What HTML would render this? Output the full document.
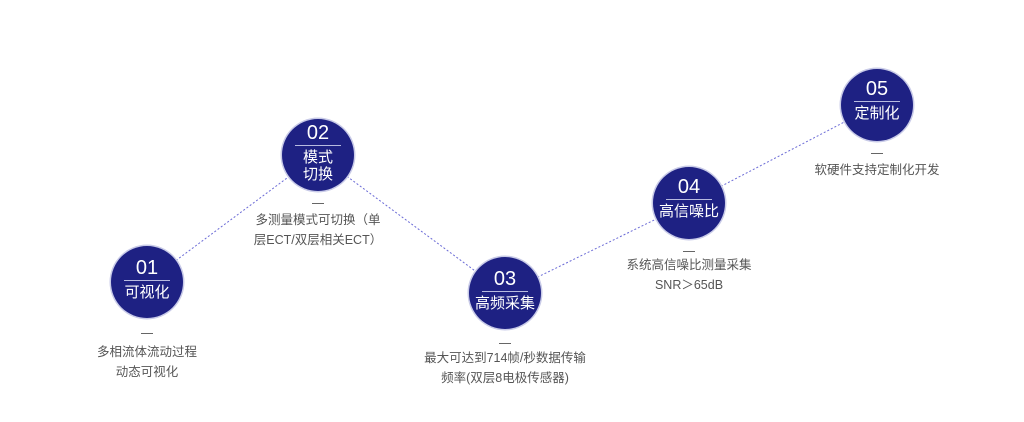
<!DOCTYPE html>
<html><head><meta charset="utf-8"><style>
body{margin:0;width:1024px;height:422px;background:#fff;position:relative;overflow:hidden;font-family:"Liberation Sans","Noto Sans CJK SC",sans-serif}
.c{position:absolute;width:72px;height:72px;border-radius:50%;background:#1e2183;box-shadow:0 0 0 1.5px #c9cbe8;color:#fff;text-align:center}
.n{font-size:20px;line-height:20px;margin-top:10px}
.l{width:46px;height:1px;background:#b8bbe0;margin:2px auto 3px}
.t{font-size:15px;line-height:17px}
.d{position:absolute;width:12px;height:1px;background:#666}
.x{position:absolute;font-size:12.5px;color:#555;text-align:center;line-height:19.5px;white-space:nowrap}
</style></head><body>
<svg width="1024" height="422" style="position:absolute;left:0;top:0">
<g stroke="#6b6bd6" stroke-width="1" stroke-dasharray="2,2" fill="none">
<line x1="147" y1="282" x2="318" y2="155"/>
<line x1="318" y1="155" x2="505" y2="293"/>
<line x1="505" y1="293" x2="689" y2="203"/>
<line x1="689" y1="203" x2="877" y2="105"/>
</g></svg>
<div class="c" style="left:111px;top:246px"><div class="n" style="margin-top:12px">01</div><div class="l"></div><div class="t">可视化</div></div>
<div class="c" style="left:282px;top:119px"><div class="n" style="margin-top:4px">02</div><div class="l"></div><div class="t">模式<br>切换</div></div>
<div class="c" style="left:469px;top:257px"><div class="n" style="margin-top:12px">03</div><div class="l"></div><div class="t">高频采集</div></div>
<div class="c" style="left:653px;top:167px"><div class="n" style="margin-top:10px">04</div><div class="l"></div><div class="t">高信噪比</div></div>
<div class="c" style="left:841px;top:69px"><div class="n" style="margin-top:10px">05</div><div class="l"></div><div class="t">定制化</div></div>
<div class="d" style="left:141px;top:333px"></div>
<div class="x" style="left:47px;width:200px;top:343px">多相流体流动过程<br>动态可视化</div>
<div class="d" style="left:312px;top:203px"></div>
<div class="x" style="left:218px;width:200px;top:211px">多测量模式可切换（单<br>层ECT/双层相关ECT）</div>
<div class="d" style="left:499px;top:343px"></div>
<div class="x" style="left:405px;width:200px;top:349px">最大可达到714帧/秒数据传输<br>频率(双层8电极传感器)</div>
<div class="d" style="left:683px;top:251px"></div>
<div class="x" style="left:589px;width:200px;top:256px">系统高信噪比测量采集<br>SNR＞65dB</div>
<div class="d" style="left:871px;top:153px"></div>
<div class="x" style="left:777px;width:200px;top:161px">软硬件支持定制化开发</div>
</body></html>
